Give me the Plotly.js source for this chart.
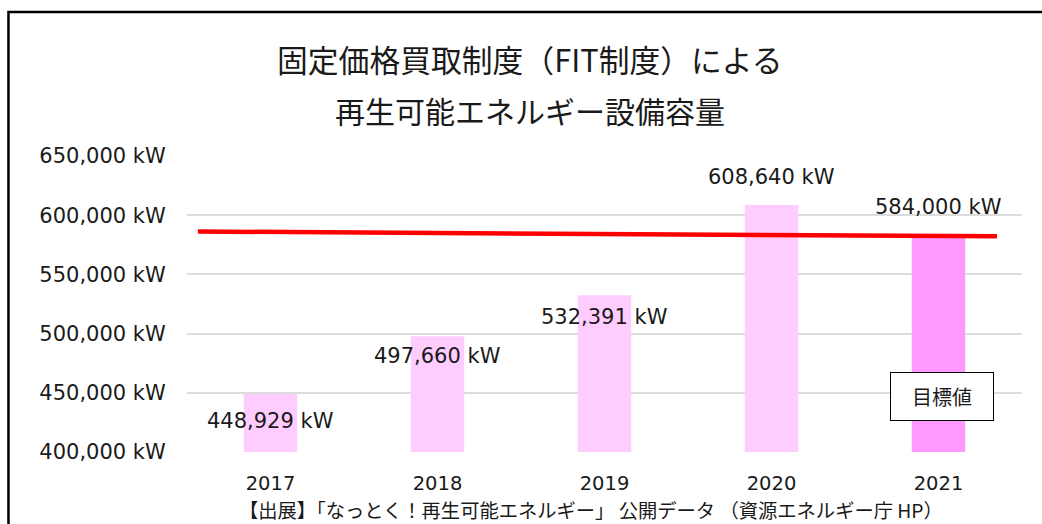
<!DOCTYPE html>
<html>
<head>
<meta charset="utf-8">
<script src="https://cdn.plot.ly/plotly-3.0.1.min.js"></script>
<style>
  html, body { margin: 0; padding: 0; background: #fff; }
  #chart { width: 1042px; height: 524px; }
</style>
</head>
<body>
<div id="chart"></div>
<script>
// ---- data ----
const years = ['2017', '2018', '2019', '2020', '2021'];
const capacityKW = [448929, 497660, 532391, 608640, 584000];
const barColors = ['#ffccff', '#ffccff', '#ffccff', '#ffccff', '#ff99ff'];
const targetLineValues = [586200, 582200];   // red target line, left end / right end
const yTickValues = [400000, 450000, 500000, 550000, 600000, 650000];
const targetLabel = '目標値';
const titleLine1 = '固定価格買取制度（FIT制度）による';
const titleLine2 = '再生可能エネルギー設備容量';
const sourceText = '【出展】「なっとく！再生可能エネルギー」 公開データ （資源エネルギー庁 HP）';

// ---- layout helpers (positions/styles, not data) ----
const labelShift = [-27, -20, -22, 28, 27];
const xIdx = years.map((_, i) => i);
const fmt = v => v.toLocaleString('en-US') + ' kW';
const numFont = 'DejaVu Sans, Verdana, sans-serif';
const cjkFont = 'Noto Sans CJK JP, sans-serif';
const txt = '#1a1a1a';

const traces = [
  {
    type: 'bar',
    x: xIdx,
    y: capacityKW,
    width: 0.32,
    marker: { color: barColors, line: { width: 0 } },
    hoverinfo: 'none'
  },
  {
    type: 'scatter',
    mode: 'lines',
    x: [-0.435, 4.35],
    y: targetLineValues,
    line: { color: '#ff0000', width: 4.5 },
    hoverinfo: 'none'
  }
];

const annotations = capacityKW.map((v, i) => ({
  x: i, y: v, xref: 'x', yref: 'y',
  text: fmt(v), showarrow: false,
  xanchor: 'center', yanchor: 'middle', yshift: labelShift[i],
  font: { family: numFont, size: 21, color: txt }
}));

annotations.push({
  x: 4, y: 0.186, xref: 'x', yref: 'paper', xshift: 3,
  xanchor: 'center', yanchor: 'middle',
  text: targetLabel, showarrow: false,
  width: 102, height: 47, borderpad: 0,
  bgcolor: '#ffffff', bordercolor: '#000000', borderwidth: 1,
  font: { family: cjkFont, size: 20, color: txt }
});
annotations.push({
  x: 0.4108, y: 1.330, xref: 'paper', yref: 'paper',
  text: titleLine1, showarrow: false, xanchor: 'center', yanchor: 'middle',
  font: { family: cjkFont, size: 30.8, color: txt }
});
annotations.push({
  x: 0.4108, y: 1.156, xref: 'paper', yref: 'paper',
  text: titleLine2, showarrow: false, xanchor: 'center', yanchor: 'middle',
  font: { family: cjkFont, size: 30, color: txt }
});
annotations.push({
  x: 0.4838, y: -0.196, xref: 'paper', yref: 'paper',
  text: sourceText, showarrow: false, xanchor: 'center', yanchor: 'middle',
  font: { family: cjkFont, size: 19.3, color: txt }
});

const layout = {
  width: 1042, height: 524,
  margin: { l: 187, r: 20, t: 156, b: 72 },
  paper_bgcolor: '#ffffff', plot_bgcolor: '#ffffff',
  showlegend: false,
  xaxis: {
    range: [-0.5, 4.5],
    tickmode: 'array', tickvals: xIdx, ticktext: years,
    showgrid: false, zeroline: false, showline: false,
    ticks: 'outside', ticklen: 14, tickcolor: 'rgba(0,0,0,0)',
    tickfont: { family: numFont, size: 19.5, color: txt },
    fixedrange: true
  },
  yaxis: {
    range: [400000, 650000],
    tickmode: 'array', tickvals: yTickValues, ticktext: yTickValues.map(fmt),
    showgrid: true, gridcolor: '#dcdcdc', gridwidth: 2,
    zeroline: false, showline: false,
    ticks: 'outside', ticklen: 16, tickcolor: 'rgba(0,0,0,0)',
    tickfont: { family: numFont, size: 21, color: txt },
    fixedrange: true
  },
  annotations: annotations,
  shapes: [{
    type: 'rect', xref: 'paper', yref: 'paper',
    x0: -0.2138, x1: 1.06, y0: -0.3, y1: 1.4865,
    line: { color: '#000000', width: 2.5 }, fillcolor: 'rgba(0,0,0,0)',
    layer: 'above'
  }]
};

Plotly.newPlot('chart', traces, layout, { displayModeBar: false, staticPlot: true });
</script>
</body>
</html>
